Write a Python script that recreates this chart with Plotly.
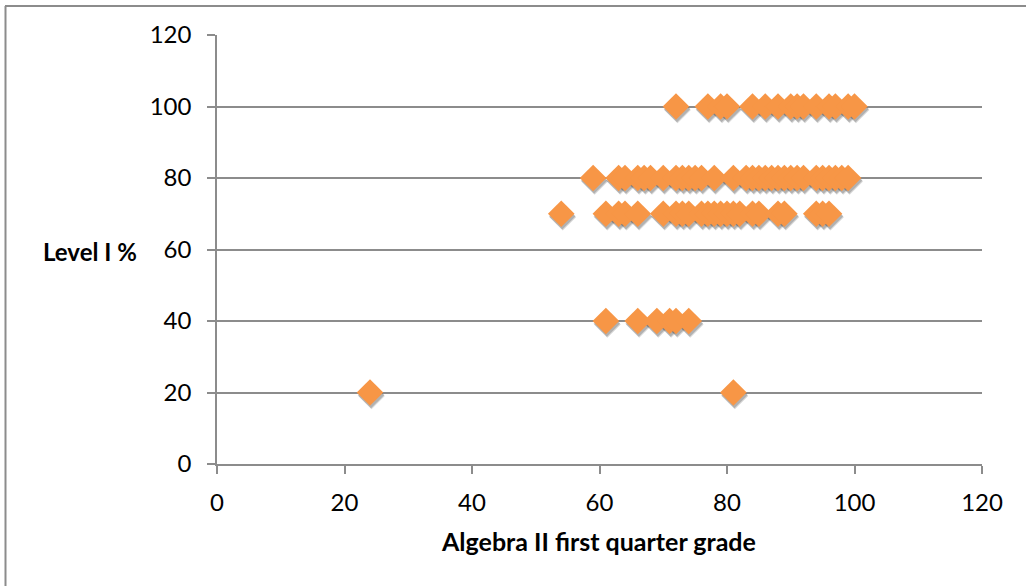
import plotly.graph_objects as go

# Algebra II first quarter grade vs. Level I % score, grouped by Level I % band
level_100_grades = [72, 77, 79, 80, 84, 86, 88, 90, 91, 92, 94, 96, 97, 99, 100]
level_80_grades = [59, 63, 64, 66, 67, 68, 70, 72, 73, 74, 75, 76, 78, 81, 83, 84,
                   85, 86, 87, 88, 89, 90, 91, 92, 94, 95, 96, 97, 98, 99]
level_70_grades = [54, 61, 63, 64, 66, 70, 72, 73, 74, 76, 77, 78, 79, 80, 81, 82,
                   84, 85, 88, 89, 94, 95, 96]
level_40_grades = [61, 66, 69, 71, 72, 74]
level_20_grades = [24, 81]

grades = level_100_grades + level_80_grades + level_70_grades + level_40_grades + level_20_grades
levels = ([100] * len(level_100_grades) + [80] * len(level_80_grades)
          + [70] * len(level_70_grades) + [40] * len(level_40_grades)
          + [20] * len(level_20_grades))

x_ticks = [0, 20, 40, 60, 80, 100, 120]
y_ticks = [0, 20, 40, 60, 80, 100, 120]

W, H = 1026, 586
ML, MR, MT, MB = 217, 44, 35, 122
plot_w = W - ML - MR
plot_h = H - MT - MB
px_per_x = plot_w / 120.0
px_per_y = plot_h / 120.0

ORANGE = "#F79646"
GRID = "#8c8c8c"
FONT = "Lato"

fig = go.Figure()

# soft drop shadow under each diamond (shifted a few pixels down/right)
for dx, dy, alpha in [(1.5, 3.5, 0.18), (1.0, 2.5, 0.22)]:
    fig.add_trace(go.Scatter(
        x=[g + dx / px_per_x for g in grades],
        y=[v - dy / px_per_y for v in levels],
        mode="markers",
        marker=dict(symbol="diamond", size=20.5, color=f"rgba(40,40,40,{alpha})",
                    line=dict(width=0)),
        hoverinfo="skip", showlegend=False,
    ))

fig.add_trace(go.Scatter(
    x=grades, y=levels, mode="markers",
    marker=dict(symbol="diamond", size=20.5, color=ORANGE, line=dict(width=0)),
    showlegend=False,
))

fig.update_layout(
    width=W, height=H,
    margin=dict(l=ML, r=MR, t=MT, b=MB),
    paper_bgcolor="white", plot_bgcolor="white",
    font=dict(family=FONT, size=24, color="#000000"),
    xaxis=dict(
        range=[0, 120], tickvals=x_ticks, ticktext=[str(v) for v in x_ticks],
        showgrid=False, zeroline=False,
        showline=True, linecolor=GRID, linewidth=1.5,
        ticks="outside", ticklen=8, tickcolor=GRID, tickwidth=1.5,
        ticklabelstandoff=8,
    ),
    yaxis=dict(
        range=[0, 120], tickvals=y_ticks, ticktext=[str(v) for v in y_ticks],
        showgrid=True, gridcolor=GRID, gridwidth=1.5, zeroline=False,
        showline=True, linecolor=GRID, linewidth=1.5,
        ticks="outside", ticklen=8, tickcolor=GRID, tickwidth=1.5,
        ticklabelstandoff=11,
    ),
)

def px_to_paper_x(px):
    return (px - ML) / plot_w

def px_to_paper_y(py):
    return (H - MB - py) / plot_h

fig.add_annotation(
    text="<b>Algebra II first quarter grade</b>", xref="paper", yref="paper",
    x=px_to_paper_x(598), y=px_to_paper_y(541), xanchor="center", yanchor="middle",
    showarrow=False, font=dict(family=FONT, size=25, color="#000000"),
)
fig.add_annotation(
    text="<b>Level I %</b>", xref="paper", yref="paper",
    x=px_to_paper_x(90), y=px_to_paper_y(251), xanchor="center", yanchor="middle",
    showarrow=False, font=dict(family=FONT, size=24, color="#000000"),
)

# chart frame (left and top edges)
fig.add_shape(type="line", xref="paper", yref="paper",
              x0=px_to_paper_x(5.5), x1=px_to_paper_x(5.5),
              y0=px_to_paper_y(6), y1=px_to_paper_y(H + 2),
              line=dict(color="#8c8c8c", width=2))
fig.add_shape(type="line", xref="paper", yref="paper",
              x0=px_to_paper_x(5), x1=px_to_paper_x(W + 2),
              y0=px_to_paper_y(6), y1=px_to_paper_y(6),
              line=dict(color="#8c8c8c", width=2))

fig.write_html("out.html")
